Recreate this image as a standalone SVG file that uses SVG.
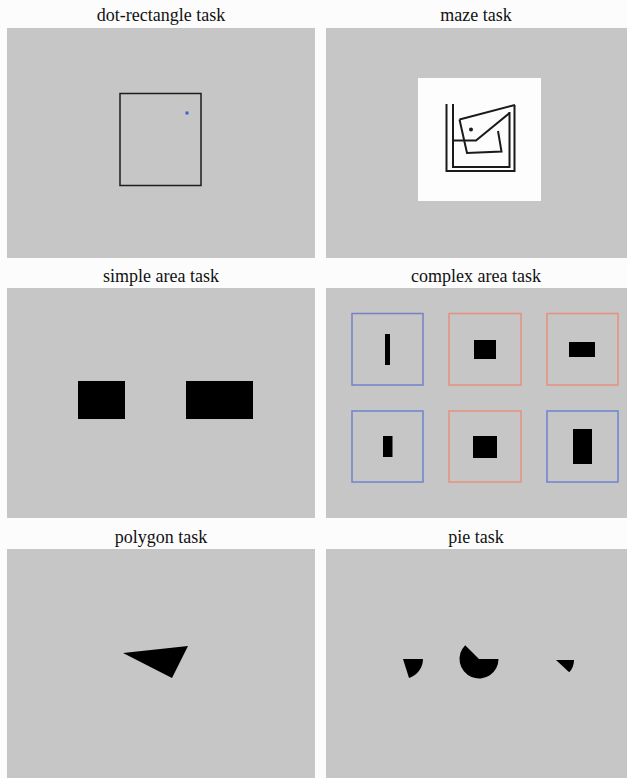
<svg xmlns="http://www.w3.org/2000/svg" width="627" height="778" viewBox="0 0 627 778">
<style>
.bg{fill:#fcfcfd}
.panel{fill:#c6c6c6}
.title{font-family:"Liberation Serif","Times New Roman",serif;font-size:18px;fill:#111;text-anchor:middle}
.blk{fill:#000}
.maze{fill:none;stroke:#1a1a1a;stroke-width:2;stroke-linejoin:miter}
.blue{fill:none;stroke:#6c84d2;stroke-width:1.5}
.salmon{fill:none;stroke:#e8907f;stroke-width:1.5}
</style>
<rect class="bg" x="0" y="0" width="627" height="778"/>

<g id="dot-rectangle">
<text class="title" x="161" y="21">dot-rectangle task</text>
<rect class="panel" x="7" y="28" width="308" height="230"/>
<rect x="120" y="93.5" width="81" height="92" fill="none" stroke="#1c1c1c" stroke-width="1.5"/>
<rect x="185.5" y="111.5" width="3" height="3" fill="#3a62d0"/>
</g>

<g id="maze">
<text class="title" x="476" y="21">maze task</text>
<rect class="panel" x="326" y="28" width="301" height="230"/>
<rect x="418" y="78" width="123" height="123" fill="#fdfdfd"/>
<polyline class="maze" points="446.5,104 446.5,171 514.5,171 514.5,105"/>
<polyline class="maze" points="453,104 453,167 509.5,167 509.5,112"/>
<line class="maze" x1="459.5" y1="119.5" x2="515" y2="105"/>
<polyline class="maze" points="459.5,119.5 467,153 501.5,151.5 498,131"/>
<polyline class="maze" points="509.5,113 476,140.5 453,140.5"/>
<circle cx="471" cy="129.5" r="2" fill="#1a1a1a"/>
</g>

<g id="simple-area">
<text class="title" x="161" y="282">simple area task</text>
<rect class="panel" x="7" y="288" width="308" height="230"/>
<rect class="blk" x="78" y="381" width="47" height="38"/>
<rect class="blk" x="186" y="381" width="67" height="38"/>
</g>

<g id="complex-area">
<text class="title" x="476" y="282">complex area task</text>
<rect class="panel" x="326" y="288" width="301" height="230"/>
<rect x="352" y="313.5" width="71" height="71.5" fill="none" stroke="#7580c8" stroke-width="1.5"/>
<rect class="blk" x="385" y="334" width="5" height="31"/>
<rect class="salmon" x="449" y="313.5" width="72" height="71.5"/>
<rect class="blk" x="474" y="340" width="22" height="19"/>
<rect class="salmon" x="547" y="313.5" width="71" height="71.5"/>
<rect class="blk" x="569" y="342" width="26" height="15"/>
<rect class="blue" x="352" y="411" width="71" height="71"/>
<rect class="blk" x="383" y="436" width="9.5" height="21"/>
<rect class="salmon" x="449" y="411" width="72" height="71"/>
<rect class="blk" x="473" y="436" width="24" height="22"/>
<rect class="blue" x="547" y="411" width="71" height="71"/>
<rect class="blk" x="573" y="429" width="19" height="35"/>
</g>

<g id="polygon">
<text class="title" x="161" y="543">polygon task</text>
<rect class="panel" x="7" y="549" width="308" height="229"/>
<polygon class="blk" points="123,653 188,646 172,678"/>
</g>

<g id="pie">
<text class="title" x="476" y="543">pie task</text>
<rect class="panel" x="326" y="549" width="301" height="229"/>
<path class="blk" d="M403,659 L423,659 A20,20 0 0 1 409,678 Z"/>
<path class="blk" d="M479,659 L498.5,659 A19.5,19.5 0 1 1 465.2,645.2 Z"/>
<path class="blk" d="M556,660 L574,660 A18,18 0 0 1 569.2,672.3 Z"/>
</g>
</svg>
